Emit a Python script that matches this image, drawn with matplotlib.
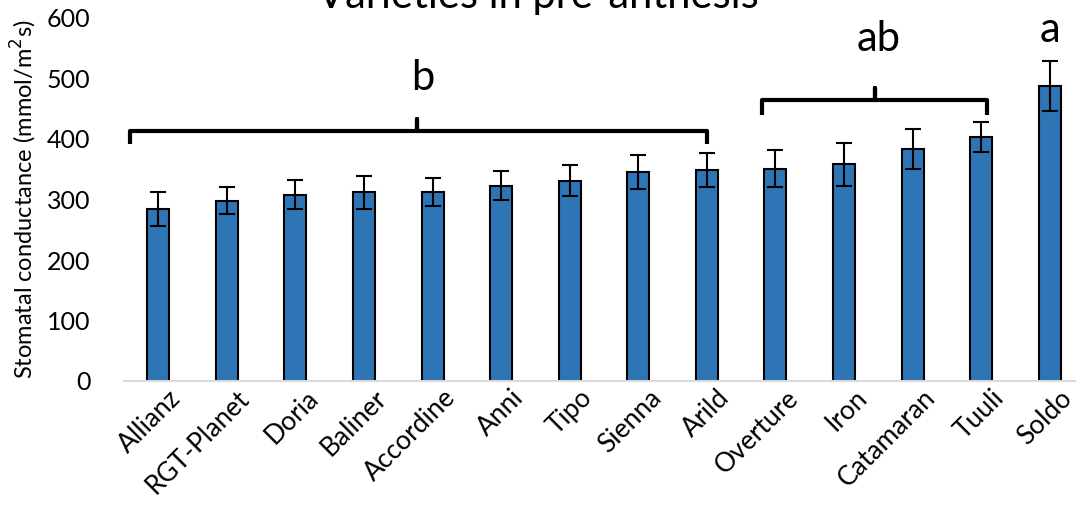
import numpy as np
import matplotlib.pyplot as plt
import matplotlib.transforms as mtransforms

varieties = ['Allianz', 'RGT-Planet', 'Doria', 'Baliner', 'Accordine', 'Anni', 'Tipo',
             'Sienna', 'Arild', 'Overture', 'Iron', 'Catamaran', 'Tuuli', 'Soldo']
conductance = [284, 298, 308, 312, 312, 323, 331, 345, 349, 351, 358, 383, 403, 488]
error = [28, 22, 24, 27, 23, 24, 26, 28, 28, 30, 35, 33, 25, 41]
y_ticks = [0, 100, 200, 300, 400, 500, 600]

plt.rcParams['font.family'] = ['Lato', 'DejaVu Sans']

fig = plt.figure(figsize=(10.76, 5.29), dpi=100)
ax = fig.add_axes([124 / 1076, 1 - 381 / 529, 960 / 1076, 363 / 529])

x = np.arange(len(varieties))
ax.bar(x, conductance, width=0.32, color='#2E75B6', edgecolor='black', linewidth=1.5, zorder=2)
ax.errorbar(x, conductance, yerr=error, fmt='none', ecolor='black', elinewidth=1.5,
            capsize=6, capthick=1.5, zorder=3)

ax.set_xlim(-0.5, len(varieties) - 0.5)
ax.set_ylim(0, 600)
ax.set_yticks(y_ticks)
ax.tick_params(axis='y', length=0, labelsize=18, pad=24)
ax.tick_params(axis='x', length=0, labelsize=19, pad=3)
ax.set_xticks(x)
ax.set_xticklabels(varieties, rotation=45, ha='right', rotation_mode='anchor')
offset = mtransforms.ScaledTranslation(0.10, 0, fig.dpi_scale_trans)
for lab in ax.get_xticklabels():
    lab.set_transform(lab.get_transform() + offset)

for s in ['top', 'right', 'left']:
    ax.spines[s].set_visible(False)
ax.spines['bottom'].set_color('#d9d9d9')
ax.spines['bottom'].set_linewidth(1.5)

ax.set_ylabel('Stomatal conductance (mmol/m$^2$s)', fontsize=17, labelpad=6)

# significance brackets
def bracket(x0, x1, xm, yh, yend, ytop):
    xs = [x0, x0, xm, xm, xm, x1, x1]
    ys = [yend, yh, yh, ytop, yh, yh, yend]
    ax.plot(xs, ys, color='black', lw=3, solid_joinstyle='round', solid_capstyle='butt',
            clip_on=False, zorder=4)

bracket(-0.41, 8.0, 3.78, 414, 392, 433)
bracket(8.8, 12.08, 10.45, 465, 440, 485)

ax.text(3.85, 500, 'b', fontsize=30, ha='center', va='center')
ax.text(10.5, 566, 'ab', fontsize=30, ha='center', va='center')
ax.text(13, 580, 'a', fontsize=30, ha='center', va='center', clip_on=False)

fig.text(0.5, 1 - 8 / 529, 'Varieties in pre-anthesis', fontsize=30, ha='center', va='baseline')

fig.savefig('out.png', dpi=100)
